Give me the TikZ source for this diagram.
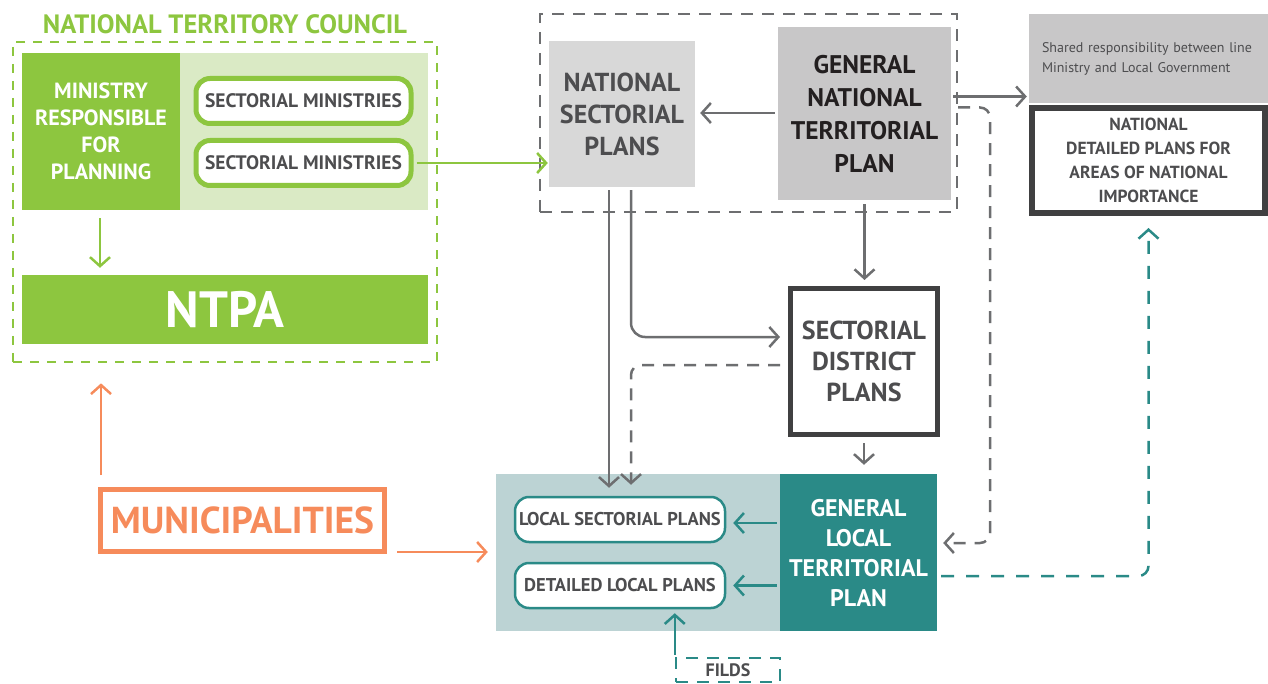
\documentclass[tikz,border=0pt]{standalone}
\usepackage{fontspec}
\setmainfont{PT Sans}
\usepackage{xcolor}
\usetikzlibrary{arrows.meta,positioning,calc}
\definecolor{councilgreen}{HTML}{8DC63F}
\definecolor{councillight}{HTML}{DAEAC5}
\definecolor{plangray}{HTML}{D8D8D8}
\definecolor{plandarkgray}{HTML}{C8C7C8}
\definecolor{linegray}{HTML}{6D6E70}
\definecolor{textgray}{HTML}{4D4D4F}
\definecolor{textdark}{HTML}{231F20}
\definecolor{framedark}{HTML}{404041}
\definecolor{localteal}{HTML}{2A8A87}
\definecolor{locallight}{HTML}{BCD3D4}
\definecolor{muniorange}{HTML}{F68B5B}

\tikzset{
  block/.style={inner sep=0pt, align=center, font=\bfseries},
  roundbox/.style={block, fill=white, rounded corners=14pt, text=textgray},
  connector/.style={line width=2.5pt, ->, >={Straight Barb[length=9pt,width=20pt]}},
  graydash/.style={connector, draw=linegray, dash pattern=on 12pt off 9pt},
}

\begin{document}
\begin{tikzpicture}[x=1pt, y=-1pt]
  \useasboundingbox (0,0) rectangle (1268,684);

  % national territory council
  \node[block, text=councilgreen, font=\bfseries\fontsize{26.5}{30}\selectfont] (councilTitle) at (225,24) {NATIONAL TERRITORY COUNCIL};
  \node[draw=councilgreen, line width=2.7pt, dash pattern=on 9pt off 8pt, minimum width=424pt, minimum height=320pt] (council) at (225,202) {};
  \node[fill=councillight, minimum width=406pt, minimum height=157pt] (panel) at (225,131.5) {};
  \node[block, fill=councilgreen, text=white, minimum width=158pt, minimum height=157pt, font=\bfseries\fontsize{22}{27}\selectfont] (ministry) at (101,131.5) {MINISTRY\\RESPONSIBLE\\FOR\\PLANNING};
  \node[roundbox, draw=councilgreen, line width=5pt, minimum width=215pt, minimum height=45pt, font=\bfseries\fontsize{19.5}{22}\selectfont] (sectorialA) at (303.5,101) {SECTORIAL MINISTRIES};
  \node[roundbox, draw=councilgreen, line width=5pt, minimum width=215pt, minimum height=45pt, font=\bfseries\fontsize{19.5}{22}\selectfont] (sectorialB) at (303.5,163) {SECTORIAL MINISTRIES};
  \node[block, fill=councilgreen, text=white, minimum width=406pt, minimum height=69pt, font=\bfseries\fontsize{51}{55}\selectfont] (ntpa) at (225,309.5) {NTPA};

  % national level plans
  \node[draw=linegray, line width=2.5pt, dash pattern=on 12pt off 9pt, minimum width=417pt, minimum height=198pt] (nationalFrame) at (748.5,113) {};
  \node[block, fill=plangray, text=textgray, minimum width=146pt, minimum height=146pt, font=\bfseries\fontsize{26}{32}\selectfont] (nsp) at (622,114) {NATIONAL\\SECTORIAL\\PLANS};
  \node[block, fill=plandarkgray, text=textdark, minimum width=173pt, minimum height=173pt, font=\bfseries\fontsize{25.5}{33}\selectfont] (gntp) at (864.5,113.5) {GENERAL\\NATIONAL\\TERRITORIAL\\PLAN};
  \node[inner sep=0pt, fill=plandarkgray, text=textgray, minimum width=239pt, minimum height=89pt, text width=213pt, align=left, font=\fontsize{14}{20}\selectfont] (shared) at (1148.5,58.5) {Shared responsibility between line\\Ministry and Local Government};
  \node[block, draw=framedark, fill=white, text=textgray, line width=6pt, minimum width=233pt, minimum height=105pt, font=\bfseries\fontsize{17.5}{24}\selectfont] (ndp) at (1148.5,160.5) {NATIONAL\\DETAILED PLANS FOR\\AREAS OF NATIONAL\\IMPORTANCE};
  \node[block, draw=framedark, fill=white, text=textgray, line width=5pt, minimum width=147pt, minimum height=146pt, font=\bfseries\fontsize{26}{31}\selectfont] (sdp) at (864,361.5) {SECTORIAL\\DISTRICT\\PLANS};

  % local level plans
  \node[fill=locallight, minimum width=284pt, minimum height=157pt] (local) at (638,552.5) {};
  \node[block, fill=localteal, text=white, minimum width=157pt, minimum height=157pt, font=\bfseries\fontsize{24}{30}\selectfont] (gltp) at (858.5,552.5) {GENERAL\\LOCAL\\TERRITORIAL\\PLAN};
  \node[roundbox, draw=localteal, line width=2.5pt, minimum width=210pt, minimum height=45pt, font=\bfseries\fontsize{18.5}{20}\selectfont] (lsp) at (620,519.5) {LOCAL SECTORIAL PLANS};
  \node[roundbox, draw=localteal, line width=2.5pt, minimum width=210pt, minimum height=45pt, font=\bfseries\fontsize{18.5}{20}\selectfont] (dlp) at (620,585.5) {DETAILED LOCAL PLANS};
  \node[block, draw=localteal, text=textgray, line width=2.5pt, dash pattern=on 12pt off 9pt, minimum width=104pt, minimum height=24pt, font=\bfseries\fontsize{18}{20}\selectfont] (filds) at (728,670) {FILDS};

  % municipalities
  \node[block, draw=muniorange, text=muniorange, line width=5pt, minimum width=284pt, minimum height=62pt, font=\bfseries\fontsize{37.5}{40}\selectfont] (muni) at (242.5,520.5) {MUNICIPALITIES};

  % green connectors
  \draw[connector, councilgreen, shorten <=8pt, shorten >=7pt] ([xshift=-1pt]ministry.south) -- ([xshift=-1pt]ministry.south |- ntpa.north);
  \draw[connector, councilgreen, shorten <=3pt, shorten >=1pt] (sectorialB.east) -- (sectorialB.east -| nsp.west);

  % gray connectors
  \draw[connector, linegray, shorten <=3pt, shorten >=5pt] (gntp.west |- 0,113) -- (nsp.east |- 0,113);
  \draw[connector, linegray, shorten <=2pt, shorten >=2pt] ([yshift=17pt]gntp.east) -- ([yshift=17pt]gntp.east -| shared.west);
  \draw[connector, linegray, shorten <=4pt, shorten >=6pt] (gntp.south) -- (gntp.south |- sdp.north);
  \draw[connector, linegray, shorten <=3pt, shorten >=8pt] ([xshift=-13pt]nsp.south) -- ([xshift=-13pt]nsp.south |- lsp.north);
  \draw[connector, linegray, rounded corners=14pt, shorten <=3pt, shorten >=8pt] ([xshift=9pt]nsp.south) |- ([yshift=24.5pt]sdp.west);
  \draw[connector, linegray, shorten <=6pt, shorten >=9pt] (sdp.south) -- (sdp.south |- gltp.north);
  \draw[graydash, rounded corners=10pt, shorten <=8pt, shorten >=11pt] ([yshift=-3.5pt]sdp.west) -| ([xshift=9pt]nsp.south |- lsp.north);
  \coordinate (backTurn) at (990,543);
  \draw[graydash, rounded corners=10pt, shorten >=6pt] ($(gntp.east)+(7,-6)$) -| (backTurn) -- (gltp.east |- backTurn);

  % teal connectors
  \draw[connector, localteal, shorten <=3pt, shorten >=7pt] (gltp.west |- 0,523) -- (lsp.east |- 0,523);
  \draw[connector, localteal, shorten <=3pt, shorten >=7pt] (gltp.west |- dlp.east) -- (dlp.east);
  \draw[connector, localteal, shorten <=2pt, shorten >=4pt] (filds.north west) -- (filds.north west |- dlp.south);
  \draw[connector, localteal, dash pattern=on 13pt off 12pt, rounded corners=10pt, shorten <=4pt, shorten >=12pt] ([yshift=-23.5pt]gltp.east) -| (ndp.south);

  % orange connectors
  \draw[connector, muniorange, shorten <=12pt, shorten >=20pt] ([xshift=3pt]muni.north west) -- ([xshift=3pt]muni.north west |- council.south);
  \draw[connector, muniorange, shorten <=10pt, shorten >=8pt] ([yshift=2pt]muni.south east) -- ([yshift=2pt]muni.south east -| local.west);
\end{tikzpicture}
\end{document}
